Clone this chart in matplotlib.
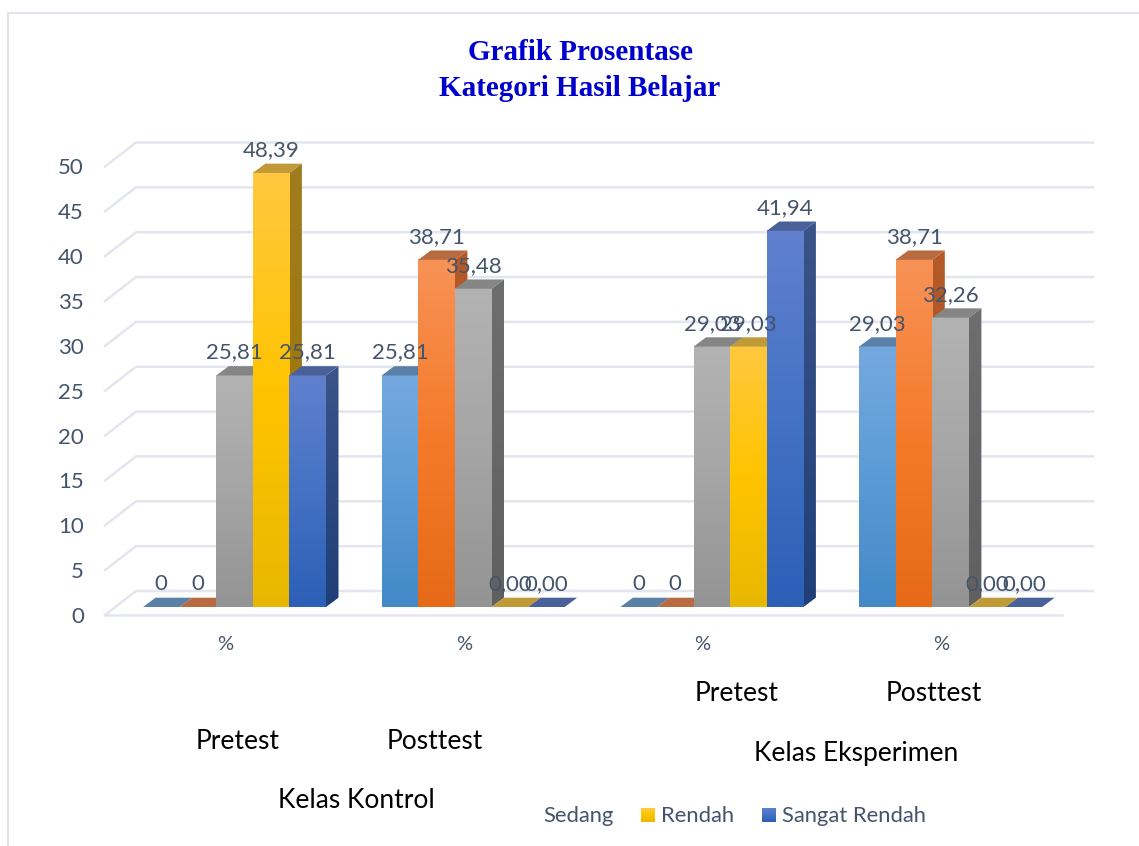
import numpy as np
import matplotlib
matplotlib.use("Agg")
import matplotlib.pyplot as plt
from matplotlib.colors import to_rgb
from matplotlib.patches import Polygon

plt.rcParams['font.family'] = ['Lato', 'DejaVu Sans']

W, H = 1139, 846

# data
seri = ['Sedang tinggi', 'Sedang biru', 'Sedang', 'Rendah', 'Sangat Rendah']
biru = [0, 25.81, 0, 29.03]
oranye = [0, 38.71, 0, 38.71]
abu = [25.81, 35.48, 29.03, 32.26]
emas = [48.39, 0, 29.03, 0]
biru_tua = [25.81, 0, 41.94, 0]
label_biru = ['0', '25,81', '0', '29,03']
label_oranye = ['0', '38,71', '0', '38,71']
label_abu = ['25,81', '35,48', '29,03', '32,26']
label_emas = ['48,39', '0,00', '29,03', '0,00']
label_biru_tua = ['25,81', '0,00', '41,94', '0,00']
yticks = [0, 5, 10, 15, 20, 25, 30, 35, 40, 45, 50]

nilai = [biru, oranye, abu, emas, biru_tua]
label = [label_biru, label_oranye, label_abu, label_emas, label_biru_tua]

# warna: depan (atas, tengah, bawah), samping (atas, bawah), tutup
warna = [
    (('#74a9e0', '#5b9bd5', '#4389c8'), ('#3f6a96', '#2f5f8c'), '#5a80a8'),
    (('#f79256', '#f57b2b', '#e66a17'), ('#b55a28', '#a34e1c'), '#b86a40'),
    (('#b3b3b3', '#a5a5a5', '#949494'), ('#6e6e6e', '#606060'), '#858585'),
    (('#ffc83f', '#ffc400', '#e8b800'), ('#a07c20', '#9c7500'), '#c19a38'),
    (('#6080ce', '#4472c4', '#2c5fb7'), ('#3a5488', '#1f3f78'), '#4a6098'),
]

# skala gambar
px_grup = 238.7
px_unit = 8.97
x0_px = 234.5
y0_px = 607
lebar = 36.6 / px_grup
dx = 12.5 / px_grup
dy = 9.3 / px_unit


def X(p):
    return (p - x0_px) / px_grup


def Y(p):
    return (y0_px - p) / px_unit


fig = plt.figure(figsize=(W / 100, H / 100), dpi=100)
ax = fig.add_axes([0, 0, 1, 1])
ax.axis('off')


def gradien(x0, x1, y0, y1, stops, z):
    rgb = np.array([to_rgb(c) for c in stops])
    t = np.linspace(0, 1, 64)
    pos = np.linspace(0, 1, len(stops))
    arr = np.stack([np.interp(t, pos, rgb[:, k]) for k in range(3)], axis=1)[:, None, :]
    return ax.imshow(arr, extent=[x0, x1, y0, y1], origin='upper', aspect='auto',
                     zorder=z, interpolation='bilinear')


# bingkai
ax.plot([X(8), X(8), X(1139)], [Y(846), Y(13), Y(13)], color='#dfe4ea', lw=1.5, zorder=1)

# garis kisi
warna_kisi = '#e3e6ee'
for v in yticks:
    yd = v - 8 / px_unit
    yb = v + 16 / px_unit
    ax.plot([X(105), X(136), X(1093)], [yd, yb, yb], color=warna_kisi, lw=1.8, zorder=1,
            solid_joinstyle='miter')
ax.plot([X(105), X(1062)], [-8 / px_unit, -8 / px_unit], color=warna_kisi, lw=1.8, zorder=1)

# batang 3d
z = 3
for g in range(4):
    for s in range(5):
        v = nilai[s][g]
        x = g + (s - 2.5) * lebar
        depan, samping, tutup = warna[s]
        if v > 0:
            im = gradien(x + lebar, x + lebar + dx, 0, v + dy, samping, z)
            sisi = Polygon([(x + lebar, 0), (x + lebar + dx, dy), (x + lebar + dx, v + dy), (x + lebar, v)],
                           transform=ax.transData, fc='none', ec='none')
            ax.add_patch(sisi)
            im.set_clip_path(sisi)
            gradien(x, x + lebar, 0, v, depan, z + 1)
        ax.add_patch(Polygon([(x, v), (x + lebar, v), (x + lebar + dx, v + dy), (x + dx, v + dy)],
                             fc=tutup, ec='none', zorder=z + 1))
        z += 2

# label data
for g in range(4):
    for s in range(5):
        v = nilai[s][g]
        ax.text(g + (s - 2) * lebar, v + 23 / px_unit, label[s][g], ha='center', va='center',
                fontsize=16, color='#44546a', zorder=100)

# sumbu y
for v in yticks:
    ax.text(X(84), v - 10 / px_unit, str(v), ha='right', va='center', fontsize=16, color='#44546a')

# label sumbu x
for g in range(4):
    ax.text(g - 9.5 / px_grup, Y(645), '%', ha='center', va='center', fontsize=14.5, color='#44546a')

# judul
fig.text(580 / W, 1 - 53 / H, 'Grafik Prosentase', ha='center', va='center', fontsize=21,
         fontweight='bold', family='Liberation Serif', color='#0000cc')
fig.text(580 / W, 1 - 89 / H, 'Kategori Hasil Belajar', ha='center', va='center', fontsize=21,
         fontweight='bold', family='Liberation Serif', color='#0000cc')

# teks hitam
for teks, px, py in [('Pretest', 238, 741), ('Posttest', 435, 741), ('Kelas Kontrol', 356, 800),
                     ('Pretest', 737, 693), ('Posttest', 934, 693), ('Kelas Eksperimen', 856, 753)]:
    fig.text(px / W, 1 - py / H, teks, ha='center', va='center', fontsize=19, color='black')

# legenda
ax.text(X(543), Y(816), seri[2], ha='left', va='center', fontsize=15.8, color='#44546a')
ax.text(X(661), Y(816), seri[3], ha='left', va='center', fontsize=15.8, color='#44546a')
ax.text(X(782), Y(816), seri[4], ha='left', va='center', fontsize=15.8, color='#44546a')
gradien(X(641), X(655), Y(822), Y(808), warna[3][0], 5)
gradien(X(762), X(776), Y(822), Y(808), warna[4][0], 5)

ax.set_xlim(X(0), X(W))
ax.set_ylim(Y(H), Y(0))

plt.savefig('out.png', dpi=100)
